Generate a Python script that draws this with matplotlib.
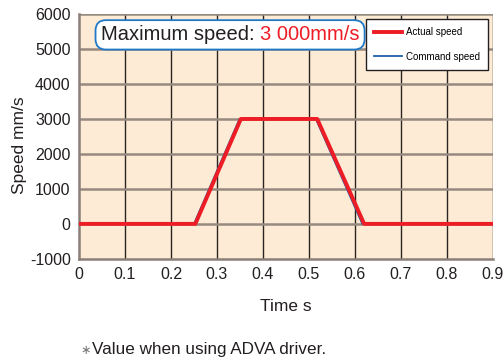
import matplotlib.pyplot as plt
from matplotlib.patches import FancyBboxPatch

# data
t_actual = [0.0, 0.253, 0.352, 0.518, 0.620, 0.9]
v_actual = [0, 0, 3000, 3000, 0, 0]
t_command = [0.0, 0.250, 0.349, 0.515, 0.616, 0.9]
v_command = [0, 0, 3000, 3000, 0, 0]
x_ticks = [0, 0.1, 0.2, 0.3, 0.4, 0.5, 0.6, 0.7, 0.8, 0.9]
x_tick_labels = ["0", "0.1", "0.2", "0.3", "0.4", "0.5", "0.6", "0.7", "0.8", "0.9"]
y_ticks = [-1000, 0, 1000, 2000, 3000, 4000, 5000, 6000]

plt.rcParams["font.family"] = ["Liberation Sans", "DejaVu Sans"]
plt.rcParams["axes.unicode_minus"] = False

fig = plt.figure(figsize=(5.03, 3.6), dpi=100)
ax = fig.add_axes([0.157, 0.281, 0.823, 0.680])
ax.set_facecolor("#fdebd6")

ax.set_xlim(0, 0.9)
ax.set_ylim(-1000, 6000)
ax.set_xticks(x_ticks)
ax.set_xticklabels(x_tick_labels)
ax.set_yticks(y_ticks)
ax.tick_params(length=0, labelsize=11.5, colors="#231f20", pad=6)

# grid: dark verticals, brownish-gray horizontals
for x in x_ticks[1:]:
    ax.axvline(x, color="#2b2522", lw=1.0, zorder=1)
for y in y_ticks[1:]:
    ax.axhline(y, color="#968a80", lw=1.8, zorder=1)
for side in ["top", "right"]:
    ax.spines[side].set_visible(False)
for side in ["left", "bottom"]:
    ax.spines[side].set_color("#8a7f78")
    ax.spines[side].set_linewidth(1.8)

ax.plot(t_command, v_command, color="#1f5fa8", lw=1.3, zorder=3, label="Command speed")
ax.plot(t_actual, v_actual, color="#ee1c25", lw=2.8, zorder=4, label="Actual speed")

handles, labels = ax.get_legend_handles_labels()
leg = ax.legend(handles[::-1], labels[::-1], loc="upper right",
                bbox_to_anchor=(0.9875, 0.978), fancybox=False, framealpha=1,
                edgecolor="#231f20", fontsize=7.0, handlelength=2.9,
                handletextpad=0.4, borderpad=0.8, labelspacing=1.5,
                borderaxespad=0)
leg.get_frame().set_linewidth(1.0)
leg.set_zorder(9)

# title box: rounded frame with black and red parts inside
box = FancyBboxPatch((0.040, 0.855), 0.650, 0.120,
                     boxstyle="round,pad=0,rounding_size=0.025",
                     transform=ax.transAxes, fc="white", ec="#1f78c8",
                     lw=1.3, zorder=7, mutation_aspect=1.7)
ax.add_patch(box)
t1 = ax.text(0.053, 0.915, "Maximum speed: ", transform=ax.transAxes,
             fontsize=14.5, color="#231f20", va="center", ha="left", zorder=8)
ax.annotate("3 000mm/s", xy=(1, 0.5), xycoords=t1, xytext=(0, 0),
            textcoords="offset points", fontsize=14.5, color="#ee1c25",
            va="center", ha="left", zorder=8)

ax.set_xlabel("Time s", fontsize=12.5, color="#231f20", labelpad=12)
ax.set_ylabel("Speed mm/s", fontsize=12.5, color="#231f20")
ax.yaxis.set_label_coords(-0.126, 0.465)

fig.text(0.159, 0.018, "\u2217", fontsize=9, color="#777777", ha="left", va="baseline")
fig.text(0.182, 0.018, "Value when using ADVA driver.", fontsize=12.3,
         color="#231f20", ha="left", va="baseline")

fig.savefig("out.png", dpi=100)
